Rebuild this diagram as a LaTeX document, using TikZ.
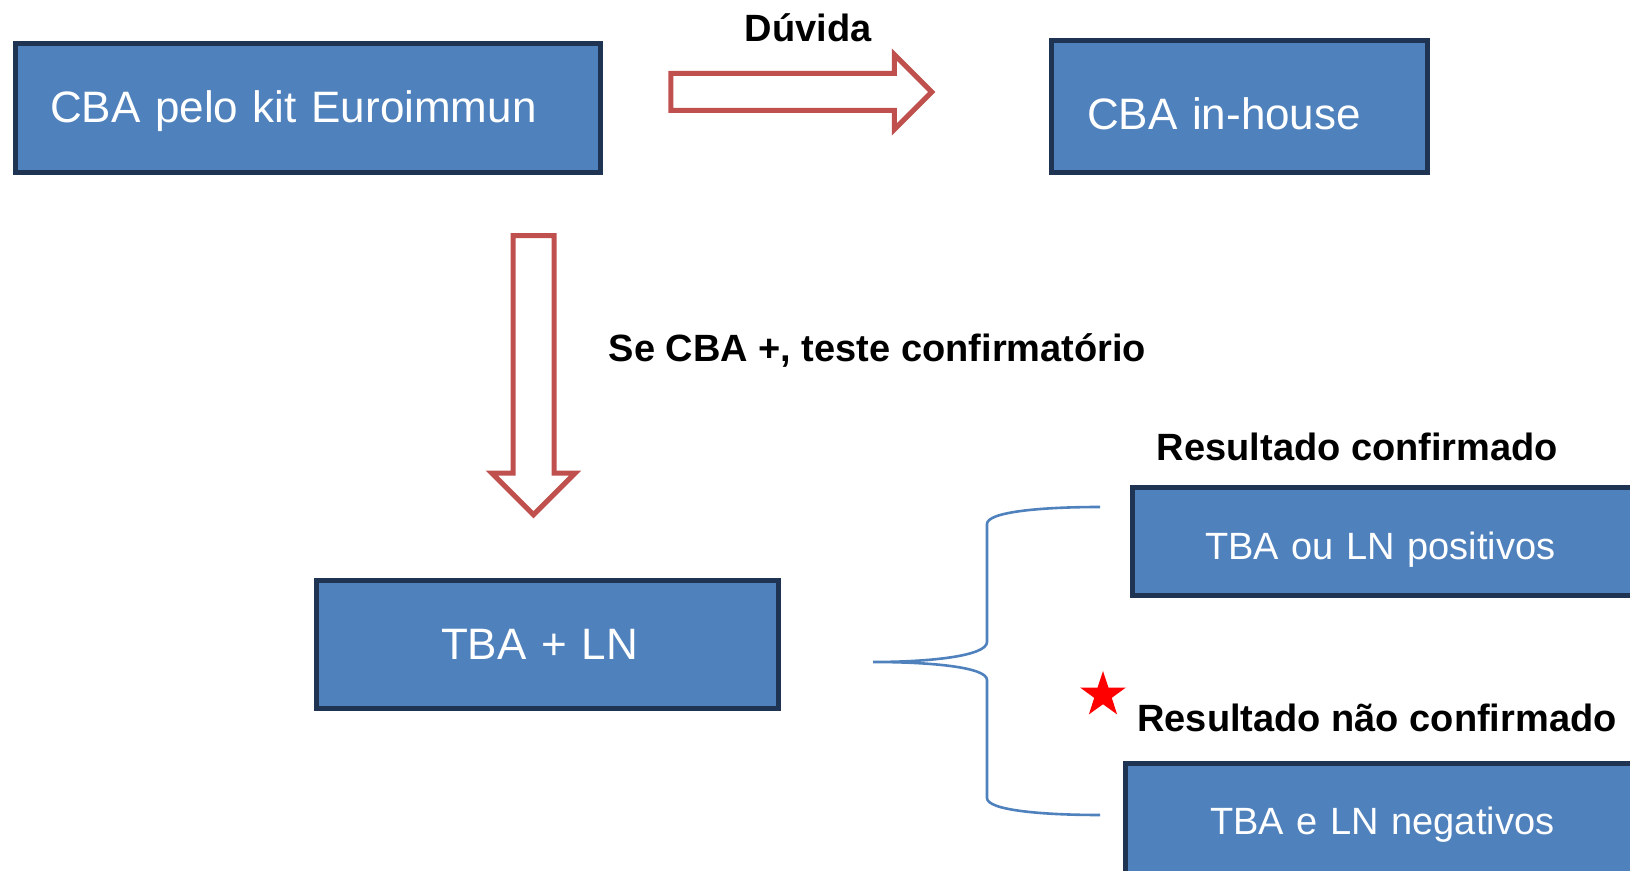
\documentclass[tikz,border=0pt]{standalone}
\usepackage{fontspec}
\setmainfont{Liberation Sans}
\usetikzlibrary{
    shapes.geometric,
    shapes.arrows,
    positioning
}
\definecolor{boxblue}{RGB}{79, 129, 189}
\definecolor{boxedge}{RGB}{30, 52, 82}
\definecolor{arrowred}{RGB}{192, 80, 77}
\newcommand{\fsize}[1]{\fontsize{#1}{#1}\selectfont}

\begin{document}
\begin{tikzpicture}[
        x=0.5pt, y=-0.5pt,
        block/.style={draw=boxedge, fill=boxblue, line width=2.5pt, text=white, font=\fsize{22}, inner ysep=0pt},
        leftblock/.style={block, align=left},
        note/.style={font=\bfseries\fsize{19}, inner sep=0pt},
        bigarrow/.style={single arrow, draw=arrowred, fill=white, line width=2.5pt, single arrow head indent=0pt}
    ]
        \useasboundingbox (0, 0) rectangle (1630, 871);

        % Top row
        \node[leftblock, minimum width=292.75pt, minimum height=64.25pt, inner xsep=17.5pt, text width=257.75pt, text height=19pt, text depth=4.6pt] (kit) at (307.75, 108.25) {CBA pelo kit Euroimmun};

        \node[leftblock, minimum width=188pt, minimum height=65.75pt, inner xsep=17.75pt, text width=152.5pt, text height=23.2pt, text depth=0pt] (inhouse) at (1239.5, 106.75) {CBA in-house};

        % Middle
        \node[leftblock, minimum width=231pt, minimum height=64pt, inner xsep=62.25pt, text width=106.5pt] (tbaln) at (547.5, 644.5) {TBA + LN};

        % Results
        \node[leftblock, font=\fsize{19}, minimum width=273.75pt, minimum height=54pt, inner xsep=36.25pt, text width=201.25pt, text height=22.3pt, text depth=4pt] (positive) at (1406.25, 541.5) {TBA ou LN positivos};

        \node[leftblock, font=\fsize{19}, minimum width=277.25pt, minimum height=56.5pt, inner xsep=42.25pt, text width=192.75pt, text height=18.1pt, text depth=4pt] (negative) at (1402.75, 820) {TBA e LN negativos};

        % Block arrows
        \node[bigarrow, minimum height=130.5pt, minimum width=35pt, inner sep=8pt, single arrow head extend=9.5pt] (doubt) at (792, 92) {};
        \node[bigarrow, shape border rotate=270, minimum height=139.5pt, minimum width=39pt, inner sep=9pt, single arrow head extend=10.5pt] (confirm) at (533.5, 365) {};

        % Labels
        \node[note] (doubtlabel) at (808, 28) {Dúvida};
        \node[note] (testlabel) at (877.5, 351) {Se CBA +, teste confirmatório};
        \node[note] (oklabel) at (1357.5, 447) {Resultado confirmado};
        \node[note] (nolabel) at (1377, 718) {Resultado não confirmado};

        \node[star, star points=5, star point ratio=2.6, fill=red, inner sep=0pt, minimum size=24pt] (flag) at (1103, 695) {};

        % Brace
        \coordinate (tip) at (873, 662);
        \coordinate (bracetop) at (1100, 507);
        \coordinate (bracebot) at (1100, 815);
        \draw[boxblue, line width=1.3pt]
            (bracetop) .. controls (1040, 507) and (987, 512) .. (987, 524)
            -- (987, 642) .. controls (987, 656) and (930, 662) .. (tip)
            .. controls (930, 662) and (987, 667) .. (987, 680)
            -- (987, 798) .. controls (987, 810) and (1040, 815) .. (bracebot);
    \end{tikzpicture}
\end{document}
